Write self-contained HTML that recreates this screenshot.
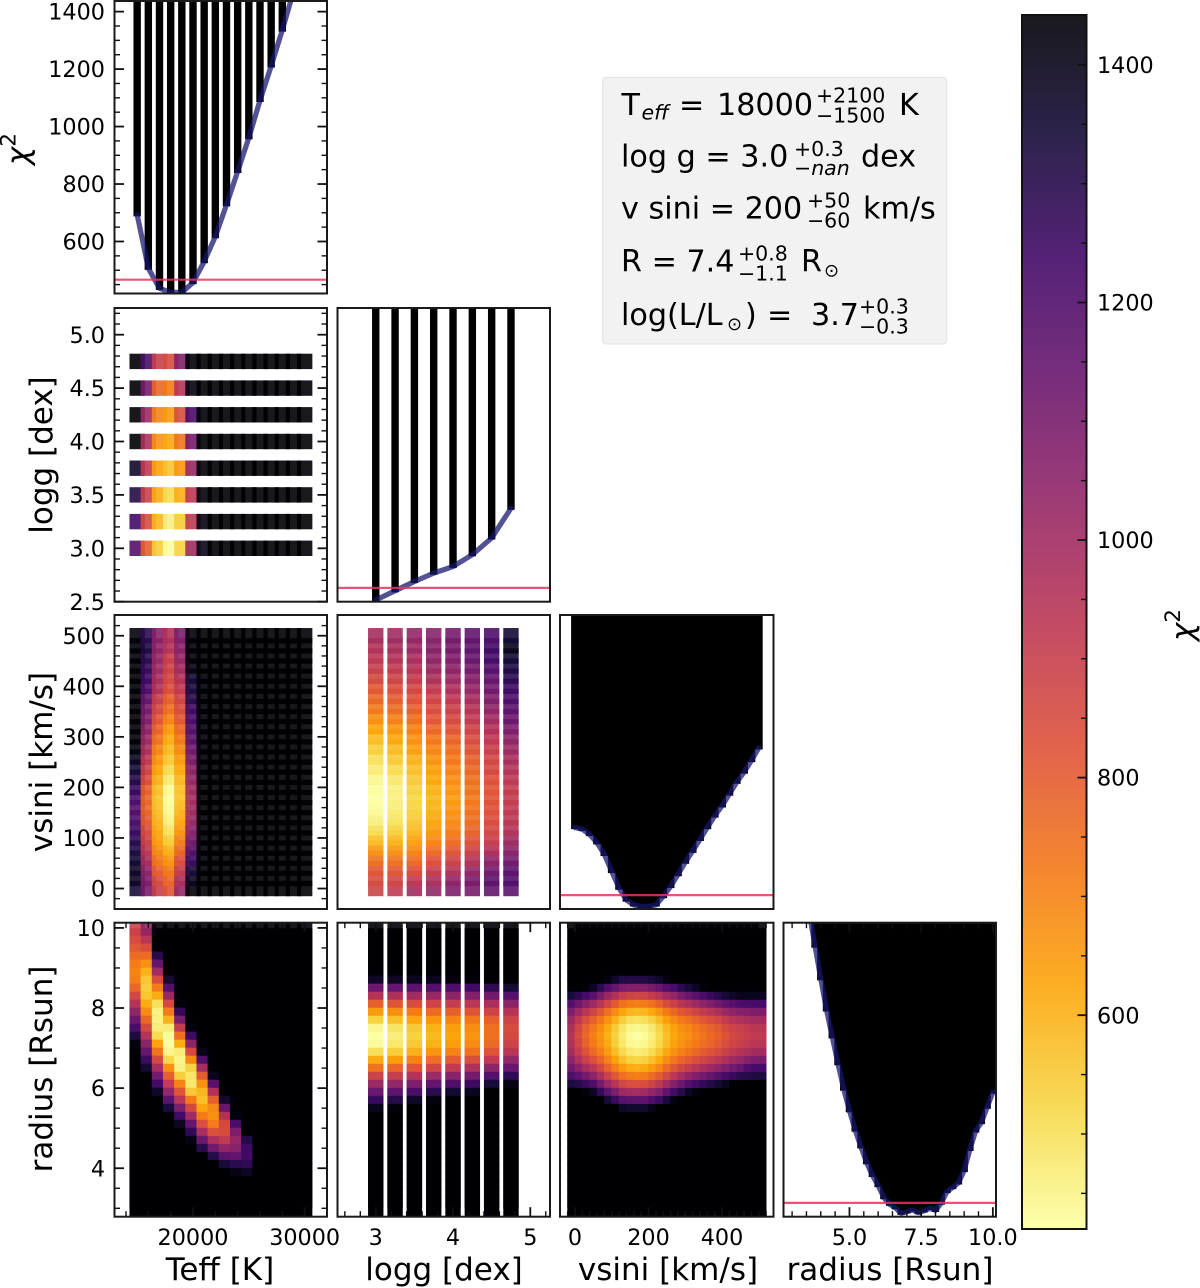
<!DOCTYPE html>
<html lang="en">
<head>
<meta charset="utf-8">
<title>Chi-squared corner plot</title>
<style>
html,body{margin:0;padding:0;background:#fff;width:1200px;height:1288px;overflow:hidden}
svg{display:block}
text{font-family:"DejaVu Sans","Liberation Sans",sans-serif;fill:#000}
.tick{font-size:22.3px}
.axis{font-size:31px}
.box{font-size:30.2px}
.small{font-size:20.5px}
</style>
</head>
<body>
<svg id="chart" xmlns="http://www.w3.org/2000/svg" width="1200" height="1288" viewBox="0 0 1200 1288">
  <defs id="defs"></defs>
  <g id="panels"></g>
  <g id="colorbar"></g>

  <g>
    <text class="axis" x="220" y="1280" text-anchor="middle">Teff [K]</text>
    <text class="axis" x="444" y="1280" text-anchor="middle">logg [dex]</text>
    <text class="axis" x="668" y="1280" text-anchor="middle">vsini [km/s]</text>
    <text class="axis" x="890" y="1280" text-anchor="middle">radius [Rsun]</text>
    <text class="axis" transform="translate(28.5,149) rotate(-90)" text-anchor="middle"><tspan font-style="italic">χ</tspan><tspan font-size="21.7" dy="-13">2</tspan></text>
    <text class="axis" transform="translate(52,455) rotate(-90)" text-anchor="middle">logg [dex]</text>
    <text class="axis" transform="translate(52,762) rotate(-90)" text-anchor="middle">vsini [km/s]</text>
    <text class="axis" transform="translate(52,1069) rotate(-90)" text-anchor="middle">radius [Rsun]</text>
    <text class="axis" transform="translate(1193,625) rotate(-90)" text-anchor="middle"><tspan font-style="italic">χ</tspan><tspan font-size="21.7" dy="-13">2</tspan></text>
  </g>

  <g>
    <rect x="602.7" y="77.3" width="344" height="266.7" rx="4" ry="4" fill="#f2f2f2" stroke="#e4e4e4" stroke-width="1.2"></rect>
    <g>
      <text class="box" x="621.5" y="115">T</text>
      <text class="small" font-style="italic" x="641.5" y="119.3">eff</text>
      <text class="box" x="679" y="115">=</text>
      <text class="box" x="717" y="115">18000</text>
      <text class="small" x="816" y="102.3">+2100</text>
      <text class="small" x="816" y="122.7">−1500</text>
      <text class="box" x="899" y="115">K</text>
    </g>
    <g>
      <text class="box" x="621" y="166.7">log g = 3.0</text>
      <text class="small" x="794" y="156">+0.3</text>
      <text class="small" x="794" y="175">−<tspan font-style="italic">nan</tspan></text>
      <text class="box" x="861" y="166.7">dex</text>
    </g>
    <g>
      <text class="box" x="621" y="218.3">v sini = 200</text>
      <text class="small" x="807" y="207.7">+50</text>
      <text class="small" x="807" y="227.7">−60</text>
      <text class="box" x="863" y="218.3">km/s</text>
    </g>
    <g>
      <text class="box" x="621" y="271.7">R = 7.4</text>
      <text class="small" x="738" y="260.7">+0.8</text>
      <text class="small" x="738" y="280.7">−1.1</text>
      <text class="box" x="801" y="271.7">R</text>
      <text font-size="18" x="824" y="276.5">⊙</text>
    </g>
    <g>
      <text class="box" x="621" y="325">log(L/L</text>
      <text font-size="18" x="727" y="330">⊙</text>
      <text class="box" x="745" y="325">)</text>
      <text class="box" x="767" y="325">=</text>
      <text class="box" x="811" y="325">3.7</text>
      <text class="small" x="859" y="313.3">+0.3</text>
      <text class="small" x="859" y="333.3">−0.3</text>
    </g>
  </g>
</svg>

<script>
/* ---------- grid categories ---------- */
const teffValues = [15000,16000,17000,18000,19000,20000,21000,22000,23000,24000,25000,26000,27000,28000,29000,30000];
const loggValues = [3.0,3.25,3.5,3.75,4.0,4.25,4.5,4.75];
const vsiniValues = [0,20,40,60,80,100,120,140,160,180,200,220,240,260,280,300,320,340,360,380,400,420,440,460,480,500];
const radiusValues = [3.0,3.2,3.4,3.6,3.8,4.0,4.2,4.4,4.6,4.8,5.0,5.2,5.4,5.6,5.8,6.0,6.2,6.4,6.6,6.8,7.0,7.2,7.4,7.6,7.8,8.0,8.2,8.4,8.6,8.8,9.0,9.2,9.4,9.6,9.8,10.0];

/* ---------- 1D minimum chi-squared envelopes ---------- */
const chi2ByTeff = [693,507,437,423,423,457,530,617,728,844,961,1091,1211,1336,1470,1600];
const chi2ByLogg = [425,457,489,518,541,582,640,743];
const chi2ByVsini = [701,695,677,648,608,549,491,450,433,428,428,433,462,497,538,581,619,660,701,741,776,817,858,893,933,977];
const chi2ByRadius = [1800,1690,1590,1470,1356,1243,1135,1042,949,861,786,719,661,606,562,527,485,462,450,431,436,442,433,439,448,441,466,506,520,536,579,652,716,745,798,850];
const chi2Threshold = [467];

/* K = above the colour scale; short rows are above scale in their trailing cells */
const K = 1500;

/* rows: logg 4.75 -> 3.0, columns: Teff */
const chi2LoggTeff = [
 [K,1210,900,850,1080,1440],
 [K,1110,770,720,950,1420],
 [K,1010,700,650,850,1220],
 [K,970,670,620,740,1110],
 [1370,920,630,565,660,1020,1440],
 [1310,890,610,510,605,930,1430],
 [1240,850,590,460,545,930,1420],
 [1190,790,540,425,530,1000,1400]
];

/* rows: vsini 500 -> 0, columns: Teff */
const chi2VsiniTeff = [
 [1430,1290,1060,960,1090,1440],[1440,1320,1040,950,1060,1440],[1440,1290,1020,900,1030,1440],
 [1440,1270,1000,880,1000,1420],[1440,1250,980,860,960,1350],[1440,1210,960,840,920,1330],
 [1440,1150,900,790,880,1300],[1440,1110,860,750,850,1250],[1440,1080,820,700,810,1220],
 [1440,1050,780,650,770,1200],[1440,1010,740,610,730,1170],[1420,970,700,580,690,1130],
 [1380,930,660,550,650,1100],[1340,880,625,510,620,1060],[1310,840,595,470,590,1030],
 [1260,790,570,430,570,1000],[1210,770,560,420,570,990],[1190,770,570,430,590,1000],
 [1210,800,590,450,620,1020],[1250,840,610,490,660,1060],[1290,880,640,540,710,1120],
 [1320,930,680,600,770,1190],[1350,980,730,660,840,1260],[1370,1040,790,720,910,1330],
 [1380,1090,850,770,980,1390],[1340,1110,900,820,1030,1440]
];

/* rows: vsini 500 -> 0, columns: logg */
const chi2VsiniLogg = [
 [990,1000,1030,1060,1110,1150,1210,1350],[960,980,1010,1060,1110,1160,1240,1400],
 [930,950,980,1040,1080,1140,1230,1350],[900,920,950,1010,1050,1110,1190,1320],
 [860,880,910,970,1010,1070,1150,1290],[810,840,870,920,970,1030,1120,1250],
 [770,800,830,880,930,990,1080,1210],[730,760,790,850,890,950,1040,1170],
 [680,710,750,810,860,920,1000,1140],[630,660,710,770,820,880,960,1090],
 [580,620,670,730,780,850,930,1050],[540,580,640,700,750,820,900,1010],
 [500,550,600,670,730,790,870,980],[470,510,570,640,700,770,860,950],
 [440,480,550,620,680,750,830,930],[425,460,530,600,660,740,820,910],
 [420,460,520,590,650,730,820,910],[430,470,530,600,660,740,830,920],
 [455,490,550,620,680,750,840,930],[500,530,580,650,710,780,860,950],
 [570,590,630,690,750,820,900,1000],[660,660,690,750,810,880,960,1050],
 [740,740,760,830,880,950,1040,1110],[810,810,840,900,950,1030,1110,1170],
 [850,870,920,970,1040,1100,1170,1200],[880,920,1000,1030,1090,1100,1150,1170]
];

/* rows: radius 10.0 -> 3.0, columns: Teff */
const chi2RadiusTeff = [
 [890,1040],[850,940],[810,850],[760,760,1300],[720,670,1150],[700,600,1000],
 [710,555,850,1350],[770,540,720,1190],[860,555,610,1020],[950,610,500,860,1430],
 [1040,680,455,720,1270],[1130,770,455,600,1100],[1220,860,465,470,910,1420],
 [1320,950,510,425,750,1250],[1420,1050,630,420,610,1050],[K,1150,740,445,470,860,1400],
 [K,1250,860,520,445,690,1200],[K,1350,980,670,455,530,990],[K,1440,1110,790,540,485,800,1400],
 [K,K,1240,910,700,480,670,1180],[K,K,1370,1030,820,550,590,960],[K,K,K,1170,940,720,570,790,1360],
 [K,K,K,1330,1090,860,620,690,1140],[K,K,K,K,1240,1000,720,670,960,1420],[K,K,K,K,1380,1150,840,720,860,1220],
 [K,K,K,K,K,1280,980,830,850,1090],[K,K,K,K,K,1410,1130,970,920,1030,1310],[K,K,K,K,K,K,1300,1120,1030,1060,1250],
 [K,K,K,K,K,K,K,1300,1170,1150,1240],[K,K,K,K,K,K,K,K,1340,1290,1280],[K,K,K,K,K,K,K,K,K,1410,1380],
 [],[],[],[],[]
];

/* rows: radius 10.0 -> 3.0, columns: logg */
const chi2RadiusLogg = [
 [],[],[],[],[],[],
 [1370,1380,1390,1400,1420,1430,1440],[1130,1150,1170,1190,1210,1240,1280,1350],
 [950,970,1000,1020,1050,1080,1120,1190],[790,820,850,880,910,940,980,1050],
 [650,680,720,760,790,820,880,950],[530,570,620,660,700,730,790,880],
 [440,490,550,600,640,680,750,850],[420,465,530,585,625,660,745,860],
 [430,480,550,600,640,680,760,880],[500,540,600,660,700,740,820,930],
 [610,640,700,750,800,840,920,1030],[740,770,820,870,920,970,1050,1140],
 [880,900,950,1010,1060,1110,1190,1280],[1010,1030,1080,1150,1200,1250,1340,1410],
 [1130,1160,1210,1290,1350,1390],[1260,1300,1370,1420],[1400,1430],
 [],[],[],[],[],[],[],[],[],[],[],[],[]
];

/* rows: radius 10.0 -> 3.0, columns: vsini */
const chi2RadiusVsini = [
 [],[],[],[],[],[],
 [K,K,K,K,K,1423,1369,1316,1310,1309,1310,1334,1367,1422],
 [K,K,1433,1384,1293,1204,1147,1092,1078,1074,1078,1102,1141,1195,1224,1292,1338,1384,1432],
 [1339,1285,1230,1178,1100,1019,959,902,879,874,879,906,948,1004,1039,1098,1137,1178,1221,1263,1305,1351,1372,1397,1399,1400],
 [1199,1128,1064,1010,942,869,804,746,717,710,717,745,790,848,889,938,973,1010,1047,1083,1120,1164,1187,1212,1220,1228],
 [1090,1006,936,878,818,751,684,626,592,584,592,621,668,726,771,812,845,878,913,944,975,1018,1044,1067,1080,1093],
 [1012,920,844,785,730,667,599,539,502,493,502,532,580,640,687,726,753,785,817,845,872,913,942,963,980,997],
 [966,867,788,729,678,617,547,487,448,438,448,478,528,587,636,673,698,729,759,785,811,851,880,901,920,939],
 [950,850,770,710,660,600,530,470,430,420,430,460,510,570,620,655,680,710,740,765,790,830,860,880,900,920],
 [960,862,783,724,672,612,541,481,441,431,441,472,522,582,632,668,694,725,755,780,806,846,876,896,918,939],
 [992,900,824,765,710,646,575,515,477,467,477,507,557,618,669,708,737,769,800,826,853,893,924,946,974,997],
 [1044,962,890,834,773,704,632,569,533,524,533,565,614,677,732,774,809,841,873,900,931,971,1004,1028,1066,1093],
 [1117,1051,984,930,859,784,712,647,614,606,614,647,696,761,819,867,909,944,978,1009,1040,1081,1115,1144,1195,1228],
 [1210,1163,1105,1054,972,889,813,746,717,710,717,753,799,869,932,986,1038,1075,1111,1146,1181,1222,1259,1293,1300,1320],
 [1325,1301,1252,1206,1109,1015,939,868,845,839,845,880,928,1000,1068,1132,1196,1235,1275,1313,1353,1393,1434],
 [K,K,1426,1384,1270,1166,1087,1011,994,989,994,1033,1078,1156,1230,1304,1381,1425],
 [K,K,K,K,K,1338,1257,1178,1167,1164,1167,1208,1253,1335,1417],
 [K,K,K,K,K,K,K,1367,1361,1360,1361,1407],
 [],[],[],[],[],[],[],[],[],[],[],[],[]
];

/* ---------- tick values and labels ---------- */
const chi2Ticks = [600,800,1000,1200,1400];
const chi2TickLabels = ["600","800","1000","1200","1400"];
const chi2MinorTicks = [450,500,550,650,700,750,850,900,950,1050,1100,1150,1250,1300,1350];
const loggYTicks = [2.5,3.0,3.5,4.0,4.5,5.0];
const loggYTickLabels = ["2.5","3.0","3.5","4.0","4.5","5.0"];
const loggYMinorTicks = [2.6,2.7,2.8,2.9,3.1,3.2,3.3,3.4,3.6,3.7,3.8,3.9,4.1,4.2,4.3,4.4,4.6,4.7,4.8,4.9,5.1,5.2];
const vsiniYTicks = [0,100,200,300,400,500];
const vsiniYTickLabels = ["0","100","200","300","400","500"];
const vsiniYMinorTicks = [-20,20,40,60,80,120,140,160,180,220,240,260,280,320,340,360,380,420,440,460,480,520];
const radiusYTicks = [4,6,8,10];
const radiusYTickLabels = ["4","6","8","10"];
const radiusYMinorTicks = [3,3.5,4.5,5,5.5,6.5,7,7.5,8.5,9,9.5];
const teffXTicks = [20000,30000];
const teffXTickLabels = ["20000","30000"];
const teffXMinorTicks = [14000,16000,18000,22000,24000,26000,28000];
const loggXTicks = [3,4,5];
const loggXTickLabels = ["3","4","5"];
const loggXMinorTicks = [2.6,2.8,3.2,3.4,3.6,3.8,4.2,4.4,4.6,4.8,5.2];
const vsiniXTicks = [0,200,400];
const vsiniXTickLabels = ["0","200","400"];
const vsiniXMinorTicks = [-20,20,40,60,80,100,120,140,160,180,220,240,260,280,300,320,340,360,380,420,440,460,480,500,520];
const radiusXTicks = [5,7.5,10];
const radiusXTickLabels = ["5.0","7.5","10.0"];
const radiusXMinorTicks = [3,3.5,4,4.5,5.5,6,6.5,7,8,8.5,9,9.5];
const colorbarTicks = [600,800,1000,1200,1400];
const colorbarTickLabels = ["600","800","1000","1200","1400"];
const colorbarMinorTicks = [450,500,550,650,700,750,850,900,950,1050,1100,1150,1250,1300,1350];

/* ---------- layout and scales ---------- */
const SVG_NS = "http://www.w3.org/2000/svg";
const rowBoxes = [[1,293.5],[308,601.7],[615,909],[922.7,1216.7]];
const colBoxes = [[114.5,327],[337.5,550],[560,773.5],[783.5,996]];
const chi2Domain = [419,1437];
const colorMin = 420, colorMax = 1442, CELL = 15.4, ALPHA = 0.9;

function linear(d0, d1, r0, r1) {
  return v => r0 + (v - d0) * (r1 - r0) / (d1 - d0);
}
const xTeff = linear(12970, 32000, colBoxes[0][0], colBoxes[0][1]);
const xLogg = linear(2.505, 5.255, colBoxes[1][0], colBoxes[1][1]);
const xVsini = linear(-40.8, 540, colBoxes[2][0], colBoxes[2][1]);
const xRadius = linear(2.70, 10.11, colBoxes[3][0], colBoxes[3][1]);
const yLogg = linear(2.5, 5.25, rowBoxes[1][1], rowBoxes[1][0]);
const yVsini = linear(-40.5, 541, rowBoxes[2][1], rowBoxes[2][0]);
const yRadius = linear(2.79, 10.13, rowBoxes[3][1], rowBoxes[3][0]);
const yChi2 = rowIndex => linear(chi2Domain[0], chi2Domain[1], rowBoxes[rowIndex][1], rowBoxes[rowIndex][0]);

const infernoStops = [[0,0,4],[22,11,57],[66,10,104],[106,23,110],[147,38,103],[188,55,84],[221,81,58],[243,120,25],[252,165,10],[246,215,70],[252,255,164]];
function colorFor(value) {
  let t = 1 - (value - colorMin) / (colorMax - colorMin);
  t = Math.max(0, Math.min(1, t));
  const p = t * (infernoStops.length - 1);
  const i = Math.min(Math.floor(p), infernoStops.length - 2);
  const f = p - i;
  const c = [0,1,2].map(k => Math.round(infernoStops[i][k] + (infernoStops[i+1][k] - infernoStops[i][k]) * f));
  return "rgb(" + c.join(",") + ")";
}

function svgEl(tag, parent) {
  const node = document.createElementNS(SVG_NS, tag);
  parent.appendChild(node);
  return node;
}
function setAll(node, attrs) {
  for (const key in attrs) node.setAttribute(key, attrs[key]);
}

const defsNode = document.getElementById("defs");
const panelsNode = document.getElementById("panels");
const colorbarNode = document.getElementById("colorbar");

function makePanel(row, col, name) {
  const [x0, x1] = colBoxes[col];
  const [y0, y1] = rowBoxes[row];
  const clip = svgEl("clipPath", defsNode);
  clip.setAttribute("id", "clip-" + name);
  const clipRect = svgEl("rect", clip);
  setAll(clipRect, {x: x0, y: y0, width: x1 - x0, height: y1 - y0});
  const group = svgEl("g", panelsNode);
  
  
  const plot = svgEl("g", group);
  
  
  plot.setAttribute("clip-path", "url(#clip-" + name + ")");
  return {group, plot, x0, x1, y0, y1};
}

/* dense = many stacked samples: inner rows are effectively opaque */
function drawHeatmap(panel, xValues, yValues, rows, xAt, yAt, dense) {
  for (let i = yValues.length - 1; i >= 0; i--) {
    const row = rows[i];
    const alpha = dense && i !== 0 ? 1 : ALPHA;
    for (let j = 0; j < xValues.length; j++) {
      const value = row[j] !== undefined ? row[j] : K;
      const cell = svgEl("rect", panel.plot);
      
      
      setAll(cell, {
        x: (xAt(xValues[j]) - CELL / 2).toFixed(2),
        y: (yAt(yValues[i]) - CELL / 2).toFixed(2),
        width: CELL, height: CELL,
        fill: colorFor(value), "fill-opacity": alpha
      });
    }
  }
}

function drawProfile(panel, xValues, chiValues, xAt, yAt, barWidth) {
  for (let i = 0; i < xValues.length; i++) {
    const bar = svgEl("rect", panel.plot);
    
    
    const yy = yAt(chiValues[i]);
    setAll(bar, {
      x: (xAt(xValues[i]) - barWidth / 2).toFixed(2),
      y: panel.y0,
      width: barWidth,
      height: Math.max(0, yy + 1.6 - panel.y0).toFixed(2),
      fill: "#000"
    });
  }
  const envelope = svgEl("polyline", panel.plot);
  
  
  setAll(envelope, {
    points: xValues.map((v, i) => xAt(v).toFixed(2) + "," + yAt(chiValues[i]).toFixed(2)).join(" "),
    fill: "none", stroke: "#17176f", "stroke-opacity": 0.74,
    "stroke-width": 5.2, "stroke-linejoin": "round", "stroke-linecap": "round"
  });
  const limit = svgEl("line", panel.plot);
  
  
  setAll(limit, {
    x1: panel.x0, x2: panel.x1,
    y1: yAt(chi2Threshold[0]), y2: yAt(chi2Threshold[0]),
    stroke: "#e8345f", "stroke-opacity": 0.85, "stroke-width": 2.2
  });
}

function drawFrame(panel) {
  const frame = svgEl("rect", panel.group);
  
  
  setAll(frame, {
    x: panel.x0, y: panel.y0,
    width: panel.x1 - panel.x0, height: panel.y1 - panel.y0,
    fill: "none", stroke: "#1a1a1a", "stroke-width": 2
  });
}

function drawYTicks(panel, majors, labels, minors, yAt) {
  [[majors, 9.5, 1.8], [minors, 5.5, 1.4]].forEach(([values, len, width]) => {
    values.forEach(v => {
      const yy = yAt(v);
      if (yy < panel.y0 || yy > panel.y1) return;
      [[panel.x0, panel.x0 + len], [panel.x1, panel.x1 - len]].forEach(([a, b]) => {
        const mark = svgEl("line", panel.group);
        
        
        setAll(mark, {x1: a, x2: b, y1: yy, y2: yy, stroke: "#111", "stroke-width": width});
      });
    });
  });
  majors.forEach((v, i) => {
    const label = svgEl("text", panel.group);
    
    
    setAll(label, {x: panel.x0 - 9.5, y: yAt(v) + 8.1, "text-anchor": "end", class: "tick"});
    label.textContent = labels[i];
  });
}

function drawXTicks(panel, majors, labels, minors, xAt) {
  [[majors, 9.5, 1.8], [minors, 5.5, 1.4]].forEach(([values, len, width]) => {
    values.forEach(v => {
      const xx = xAt(v);
      if (xx < panel.x0 || xx > panel.x1) return;
      [[panel.y1, panel.y1 - len], [panel.y0, panel.y0 + len]].forEach(([a, b]) => {
        const mark = svgEl("line", panel.group);
        
        
        setAll(mark, {x1: xx, x2: xx, y1: a, y2: b, stroke: "#111", "stroke-width": width});
      });
    });
  });
  majors.forEach((v, i) => {
    const label = svgEl("text", panel.group);
    
    
    setAll(label, {x: xAt(v), y: 1245, "text-anchor": "middle", class: "tick"});
    label.textContent = labels[i];
  });
}

/* ---------- panels ---------- */
const loggRows = [...loggValues].reverse();
const vsiniRows = [...vsiniValues].reverse();
const radiusRows = [...radiusValues].reverse();

const p00 = makePanel(0, 0, "teff-chi2");
drawProfile(p00, teffValues, chi2ByTeff, xTeff, yChi2(0), 7.4);
drawFrame(p00);
drawYTicks(p00, chi2Ticks, chi2TickLabels, chi2MinorTicks, yChi2(0));

const p10 = makePanel(1, 0, "teff-logg");
drawHeatmap(p10, teffValues, loggRows, chi2LoggTeff, xTeff, yLogg, false);
drawFrame(p10);
drawYTicks(p10, loggYTicks, loggYTickLabels, loggYMinorTicks, yLogg);

const p11 = makePanel(1, 1, "logg-chi2");
drawProfile(p11, loggValues, chi2ByLogg, xLogg, yChi2(1), 7.4);
drawFrame(p11);

const p20 = makePanel(2, 0, "teff-vsini");
drawHeatmap(p20, teffValues, vsiniRows, chi2VsiniTeff, xTeff, yVsini, false);
drawFrame(p20);
drawYTicks(p20, vsiniYTicks, vsiniYTickLabels, vsiniYMinorTicks, yVsini);

const p21 = makePanel(2, 1, "logg-vsini");
drawHeatmap(p21, loggValues, vsiniRows, chi2VsiniLogg, xLogg, yVsini, false);
drawFrame(p21);

const p22 = makePanel(2, 2, "vsini-chi2");
drawProfile(p22, vsiniValues, chi2ByVsini, xVsini, yChi2(2), 7.8);
drawFrame(p22);

const p30 = makePanel(3, 0, "teff-radius");
drawHeatmap(p30, teffValues, radiusRows, chi2RadiusTeff, xTeff, yRadius, true);
drawFrame(p30);
drawYTicks(p30, radiusYTicks, radiusYTickLabels, radiusYMinorTicks, yRadius);
drawXTicks(p30, teffXTicks, teffXTickLabels, teffXMinorTicks, xTeff);

const p31 = makePanel(3, 1, "logg-radius");
drawHeatmap(p31, loggValues, radiusRows, chi2RadiusLogg, xLogg, yRadius, true);
drawFrame(p31);
drawXTicks(p31, loggXTicks, loggXTickLabels, loggXMinorTicks, xLogg);

const p32 = makePanel(3, 2, "vsini-radius");
drawHeatmap(p32, vsiniValues, radiusRows, chi2RadiusVsini, xVsini, yRadius, true);
drawFrame(p32);
drawXTicks(p32, vsiniXTicks, vsiniXTickLabels, vsiniXMinorTicks, xVsini);

const p33 = makePanel(3, 3, "radius-chi2");
drawProfile(p33, radiusValues, chi2ByRadius, xRadius, yChi2(3), 7.4);
drawFrame(p33);
drawXTicks(p33, radiusXTicks, radiusXTickLabels, radiusXMinorTicks, xRadius);

/* ---------- colour bar ---------- */
const cbarBox = {x0: 1022, x1: 1086.5, y0: 15, y1: 1229};
const yColor = linear(colorMin, colorMax, cbarBox.y1, cbarBox.y0);
const gradient = svgEl("linearGradient", defsNode);
setAll(gradient, {id: "inferno-reversed", x1: 0, y1: 0, x2: 0, y2: 1});
infernoStops.forEach((stopColor, i) => {
  const stop = svgEl("stop", gradient);
  setAll(stop, {
    offset: i / (infernoStops.length - 1),
    "stop-color": "rgb(" + stopColor.join(",") + ")"
  });
});
const cbarFill = svgEl("rect", colorbarNode);


setAll(cbarFill, {
  x: cbarBox.x0, y: cbarBox.y0,
  width: cbarBox.x1 - cbarBox.x0, height: cbarBox.y1 - cbarBox.y0,
  fill: "url(#inferno-reversed)", "fill-opacity": ALPHA
});
const cbarFrame = svgEl("rect", colorbarNode);


setAll(cbarFrame, {
  x: cbarBox.x0, y: cbarBox.y0,
  width: cbarBox.x1 - cbarBox.x0, height: cbarBox.y1 - cbarBox.y0,
  fill: "none", stroke: "#111", "stroke-width": 2
});
[[colorbarTicks, 9, 1.8], [colorbarMinorTicks, 5.5, 1.4]].forEach(([values, len, width]) => {
  values.forEach(v => {
    if (v < colorMin || v > colorMax) return;
    const mark = svgEl("line", colorbarNode);
    
    
    setAll(mark, {
      x1: cbarBox.x1, x2: cbarBox.x1 - len,
      y1: yColor(v), y2: yColor(v),
      stroke: "#111", "stroke-width": width
    });
  });
});
colorbarTicks.forEach((v, i) => {
  const label = svgEl("text", colorbarNode);
  
  
  setAll(label, {x: 1097, y: yColor(v) + 8.1, class: "tick"});
  label.textContent = colorbarTickLabels[i];
});
</script>
</body>
</html>
